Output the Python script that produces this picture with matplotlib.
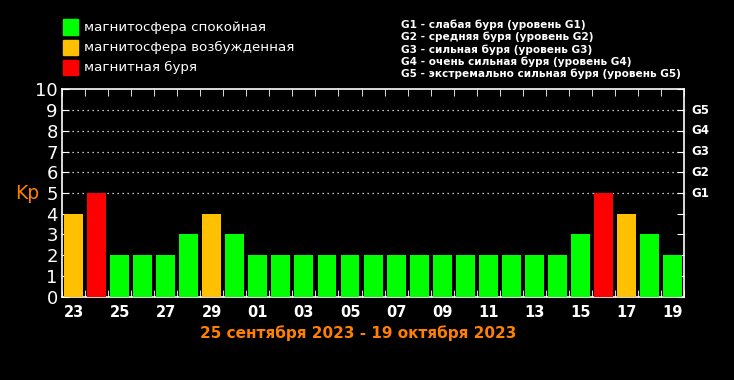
import numpy as np
import matplotlib.pyplot as plt
from matplotlib.patches import Rectangle

plt.rcParams['font.family'] = ['DejaVu Sans']

# дни периода и значения Kp
days = ['23', '24', '25', '26', '27', '28', '29', '30',
        '01', '02', '03', '04', '05', '06', '07', '08', '09', '10',
        '11', '12', '13', '14', '15', '16', '17', '18', '19']
kp = [4, 5, 2, 2, 2, 3, 4, 3,
      2, 2, 2, 2, 2, 2, 2, 2, 2, 2,
      2, 2, 2, 2, 3, 5, 4, 3, 2]

legend_labels = ['магнитосфера спокойная', 'магнитосфера возбужденная', 'магнитная буря']
legend_colors = ['#00ff00', '#ffc000', '#ff0000']
storm_levels = ['G1', 'G2', 'G3', 'G4', 'G5']
storm_notes = ['G1 - слабая буря (уровень G1)',
               'G2 - средняя буря (уровень G2)',
               'G3 - сильная буря (уровень G3)',
               'G4 - очень сильная буря (уровень G4)',
               'G5 - экстремально сильная буря (уровень G5)']
period = '25 сентября 2023 - 19 октября 2023'


def bar_color(v):
    if v >= 5:
        return legend_colors[2]
    if v == 4:
        return legend_colors[1]
    return legend_colors[0]


fig = plt.figure(figsize=(7.34, 3.80), dpi=100, facecolor='black')
ax = fig.add_axes([0.0845, 0.2197, 0.8475, 0.5448])
ax.set_facecolor('black')

x = np.arange(len(days))
ax.bar(x, kp, width=0.82, color=[bar_color(v) for v in kp], zorder=3)

ax.set_xlim(-0.5, len(days) - 0.5)
ax.set_ylim(0, 10)

# пунктирная сетка на уровнях 5..9
for lvl in range(5, 10):
    ax.axhline(lvl, color='white', linestyle=(0, (1, 3)), linewidth=0.9, zorder=1)

for s in ax.spines.values():
    s.set_color('white')
    s.set_linewidth(1.2)

ax.set_yticks(range(0, 11))
ax.set_yticklabels([str(i) for i in range(0, 11)], color='white', fontsize=13)
ax.tick_params(axis='y', direction='in', length=5, color='white', right=True, pad=3)

ax.set_xticks(x[::2])
ax.set_xticklabels(days[::2], color='white', fontsize=10.5, fontweight='bold')
ax.tick_params(axis='x', length=0, pad=6)
ax.set_xticks(np.arange(-0.5, len(days), 1), minor=True)
ax.tick_params(axis='x', which='minor', direction='in', length=5, color='white', top=True)

# уровни бурь справа
for i, g in enumerate(storm_levels):
    ax.text(len(days) - 0.5 + 0.3, 5 + i, g, color='white', fontsize=8.5,
            fontweight='bold', va='center', ha='left')

fig.text(0.02, 0.49, 'Kp', color='#ff8000', fontsize=13.5, va='center', ha='left')

# легенда
for i, (lab, col) in enumerate(zip(legend_labels, legend_colors)):
    yy = 1 - (27 + 20 * i) / 380
    fig.patches.append(Rectangle((63 / 734, yy - 7.5 / 380), 15 / 734, 15 / 380,
                                 transform=fig.transFigure, color=col))
    fig.text(84 / 734, yy, lab, color='white', fontsize=9.6, va='center', ha='left')

for i, note in enumerate(storm_notes):
    fig.text(401 / 734, 1 - (25 + 12.2 * i) / 380, note, color='white',
             fontsize=7.6, fontweight='bold', va='center', ha='left')

fig.text(358 / 734, 1 - 333 / 380, period, color='#ff8000', fontsize=11,
         fontweight='bold', va='center', ha='center')

fig.savefig('out.png', dpi=100, facecolor='black')
